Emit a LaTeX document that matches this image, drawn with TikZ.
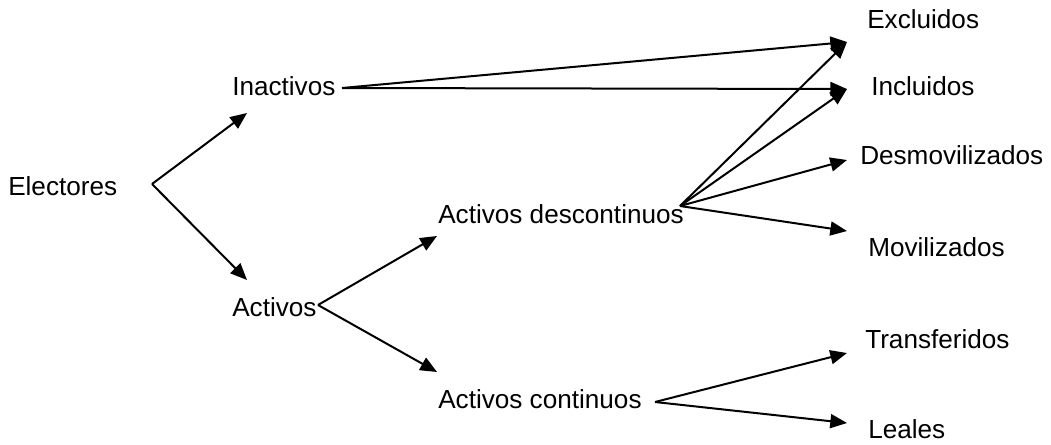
\documentclass[tikz,border=0pt]{standalone}
\usepackage{fontspec}
\setmainfont{Liberation Sans}
\usetikzlibrary{arrows.meta,positioning}
\tikzset{>={Triangle[length=12.5pt,width=10.5pt]}}
\tikzset{font=\fontsize{19.6pt}{23pt}\selectfont}
\tikzset{label/.style={anchor=base west, inner sep=0pt},
  link/.style={->, line width=1.5pt}}

\begin{document}
\begin{tikzpicture}[x=0.75pt,y=-0.75pt]
          \useasboundingbox (0,0) rectangle (1051,444);
          % labels
          \node[label] (el) at (8,195) {Electores};
          \node[label] (in) at (232,95) {Inactivos};
          \node[label] (ac) at (232,316) {Activos};
          \node[label] (ad) at (438,223) {Activos descontinuos};
          \node[label] (acn) at (438,408) {Activos continuos};
          \node[label] (ex) at (867,28) {Excluidos};
          \node[label] (inc) at (871,95) {Incluidos};
          \node[label] (de) at (860,164) {Desmovilizados};
          \node[label] (mo) at (868,256) {Movilizados};
          \node[label] (tr) at (865,348) {Transferidos};
          \node[label] (le) at (868,438) {Leales};
          % fork points and arrow tips
          \coordinate (el-out) at (152,184);
          \coordinate (in-out) at (342,88);
          \coordinate (ac-out) at (318,305);
          \coordinate (ad-out) at (680,206);
          \coordinate (acn-out) at (655,402);
          \coordinate (in-in) at (247,113);
          \coordinate (ac-in) at (247,280);
          \coordinate (ad-in) at (437,236);
          \coordinate (acn-in) at (437,372);
          \coordinate (ex-in) at (847,42);
          \coordinate (inc-in) at (847,89);
          \coordinate (de-in) at (847,160);
          \coordinate (mo-in) at (847,231);
          \coordinate (tr-in) at (847,353);
          \coordinate (le-in) at (847,423);
          % arrows
          \draw[link] (el-out) -- (in-in);
          \draw[link] (el-out) -- (ac-in);
          \draw[link] (in-out) -- (ex-in);
          \draw[link] (in-out) -- (inc-in);
          \draw[link] (ac-out) -- (ad-in);
          \draw[link] (ac-out) -- (acn-in);
          \draw[link] (ad-out) -- (ex-in);
          \draw[link] (ad-out) -- (inc-in);
          \draw[link] (ad-out) -- (de-in);
          \draw[link] (ad-out) -- (mo-in);
          \draw[link] (acn-out) -- (tr-in);
          \draw[link] (acn-out) -- (le-in);
        \end{tikzpicture}
\end{document}
